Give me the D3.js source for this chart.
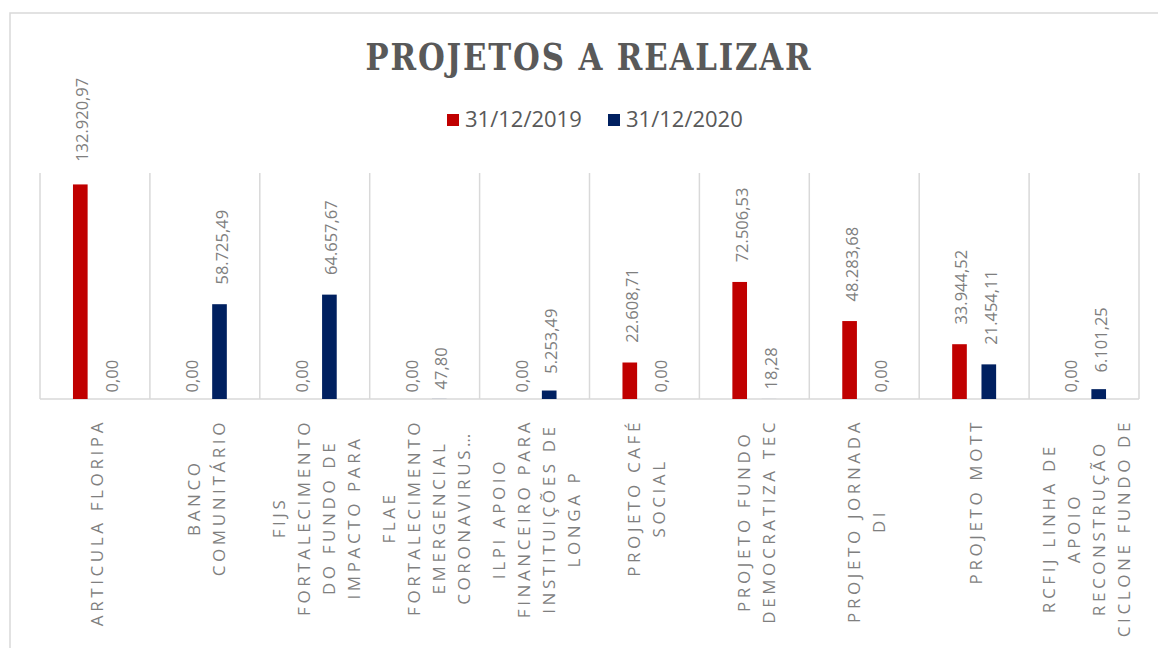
<!DOCTYPE html>
<html>
<head>
<meta charset="utf-8">
<script src="https://cdn.jsdelivr.net/npm/d3@7"></script>
<style>
  body { margin: 0; background: #fff; }
  svg { display: block; }
</style>
</head>
<body>
<div id="chart"></div>
<script>
// categories (one entry per wrapped line, as in the picture)
var categories = [
  ["ARTICULA FLORIPA"],
  ["BANCO", "COMUNITÁRIO"],
  ["FIJS", "FORTALECIMENTO", "DO FUNDO DE", "IMPACTO PARA"],
  ["FLAE", "FORTALECIMENTO", "EMERGENCIAL", "CORONAVIRUS…"],
  ["ILPI APOIO", "FINANCEIRO PARA", "INSTITUIÇÕES DE", "LONGA P"],
  ["PROJETO CAFÉ", "SOCIAL"],
  ["PROJETO FUNDO", "DEMOCRATIZA TEC"],
  ["PROJETO JORNADA", "DI"],
  ["PROJETO MOTT"],
  ["RCFIJ LINHA DE", "APOIO", "RECONSTRUÇÃO", "CICLONE FUNDO DE"]
];
var seriesNames = ["31/12/2019", "31/12/2020"];
var values2019 = [132920.97, 0, 0, 0, 0, 22608.71, 72506.53, 48283.68, 33944.52, 0];
var values2020 = [0, 58725.49, 64657.67, 47.80, 5253.49, 0, 18.28, 0, 21454.11, 6101.25];
var colors = ["#c00000", "#002060"];

(function () {
  var W = 1158, H = 648;
  var plotLeft = 40, plotRight = 1139, plotTop = 173, plotBottom = 399;

  var fmt = d3.formatLocale({ decimal: ",", thousands: ".", grouping: [3], currency: ["R$", ""] }).format(",.2f");

  var svg = d3.select("#chart").append("svg")
    .attr("width", W)
    .attr("height", H);

  // chart frame
  svg.append("rect")
    .attr("x", 10).attr("y", 13)
    .attr("width", 1170).attr("height", 660)
    .attr("fill", "#fff")
    .attr("stroke", "#d9d9d9")
    .attr("stroke-width", 1.5);

  var x = d3.scaleBand()
    .domain(d3.range(categories.length))
    .range([plotLeft, plotRight]);

  var xs = d3.scaleBand()
    .domain([0, 1])
    .range([0, x.bandwidth()])
    .paddingInner(0.5)
    .paddingOuter(1.125);

  var y = d3.scaleLinear()
    .domain([0, 140000])
    .range([plotBottom, plotTop]);

  // category separators
  var seps = d3.range(categories.length + 1).map(function (i) {
    return i < categories.length ? x(i) : x(i - 1) + x.bandwidth();
  });
  svg.append("g").selectAll("line")
    .data(seps)
    .enter().append("line")
    .attr("x1", function (d) { return d; })
    .attr("x2", function (d) { return d; })
    .attr("y1", plotTop)
    .attr("y2", plotBottom)
    .attr("stroke", "#d9d9d9")
    .attr("stroke-width", 1.5);

  svg.append("line")
    .attr("x1", plotLeft).attr("x2", plotRight)
    .attr("y1", plotBottom).attr("y2", plotBottom)
    .attr("stroke", "#d9d9d9")
    .attr("stroke-width", 1.5);

  var rows = [];
  categories.forEach(function (c, i) {
    rows.push({ cat: i, s: 0, v: values2019[i] });
    rows.push({ cat: i, s: 1, v: values2020[i] });
  });

  svg.append("g").selectAll("rect")
    .data(rows)
    .enter().append("rect")
    .attr("x", function (d) { return x(d.cat) + xs(d.s); })
    .attr("width", xs.bandwidth())
    .attr("y", function (d) { return y(d.v); })
    .attr("height", function (d) { return plotBottom - y(d.v); })
    .attr("fill", function (d) { return colors[d.s]; });

  // data labels (rotated)
  var labels = svg.append("g").selectAll("text")
    .data(rows)
    .enter().append("text")
    .attr("font-family", "'Open Sans', sans-serif")
    .attr("font-size", 16.5)
    .attr("fill", "#7f7f7f")
    .attr("dominant-baseline", "central")
    .text(function (d) { return fmt(d.v); });

  labels.attr("transform", function (d) {
    var len = this.getComputedTextLength();
    var gap = Math.max(6, 0.31 * len - 3.5);
    var cx = x(d.cat) + xs(d.s) + xs.bandwidth() / 2 + 1.5;
    return "translate(" + cx + "," + (y(d.v) - gap) + ") rotate(-90)";
  });

  // category labels
  var catG = svg.append("g").selectAll("g")
    .data(categories)
    .enter().append("g");

  catG.each(function (lines, i) {
    var g = d3.select(this);
    var t = g.append("text")
      .attr("font-family", "'Open Sans', sans-serif")
      .attr("font-size", 17)
      .attr("letter-spacing", "3.6px")
      .attr("fill", "#7f7f7f")
      .attr("text-anchor", "middle")
      .attr("dominant-baseline", "central");
    lines.forEach(function (ln, k) {
      t.append("tspan")
        .attr("x", 0)
        .attr("y", (k - (lines.length - 1) / 2) * 25)
        .text(ln);
    });
    var maxLen = d3.max(t.selectAll("tspan").nodes(), function (n) { return n.getComputedTextLength(); });
    var cx = x(i) + x.bandwidth() / 2 + 1;
    g.attr("transform", "translate(" + cx + "," + (419 + maxLen / 2) + ") rotate(-90)");
  });

  // title
  svg.append("text")
    .attr("x", 589)
    .attr("y", 70)
    .attr("text-anchor", "middle")
    .attr("font-family", "'DejaVu Serif Condensed', 'DejaVu Serif', serif")
    .attr("font-stretch", "condensed")
    .attr("font-weight", "bold")
    .attr("font-size", 37)
    .attr("letter-spacing", "2px")
    .attr("fill", "#595959")
    .attr("textLength", 447)
    .attr("lengthAdjust", "spacingAndGlyphs")
    .text("PROJETOS A REALIZAR");

  // legend
  var legendX = [447, 608];
  var leg = svg.append("g").selectAll("g")
    .data(seriesNames)
    .enter().append("g")
    .attr("transform", function (d, i) { return "translate(" + legendX[i] + ",114)"; });
  leg.append("rect")
    .attr("width", 12).attr("height", 12)
    .attr("fill", function (d, i) { return colors[i]; });
  leg.append("text")
    .attr("x", 18)
    .attr("y", 12.5)
    .attr("font-family", "'Open Sans', sans-serif")
    .attr("font-size", 22)
    .attr("fill", "#595959")
    .text(function (d) { return d; });
})();
</script>
</body>
</html>
